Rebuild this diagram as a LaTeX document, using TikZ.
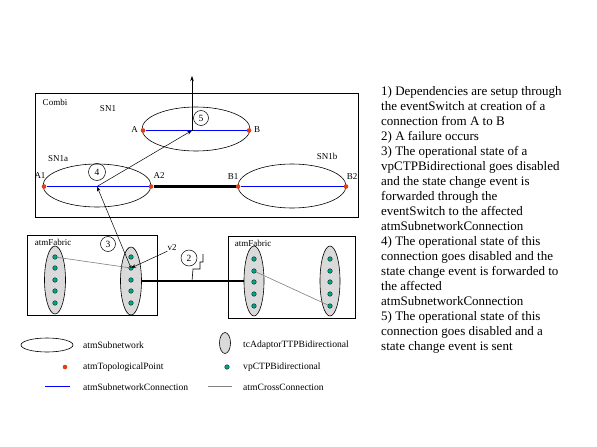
\documentclass[tikz,border=0pt]{standalone}
\usepackage{fontspec}
\setmainfont{Liberation Serif}
\usetikzlibrary{shapes.geometric,arrows.meta}
\definecolor{tpred}{RGB}{230,60,20}
\definecolor{vpteal}{RGB}{0,165,135}
\definecolor{fabgray}{RGB}{218,218,218}
\definecolor{sncblue}{RGB}{0,0,255}
\definecolor{xcgray}{RGB}{128,128,128}
\tikzset{
  lbl/.style={font=\fontsize{9}{10}\selectfont, inner sep=0pt},
  lgt/.style={font=\fontsize{9.6}{10}\selectfont, inner sep=0pt, anchor=west},
  snell/.style={ellipse, draw, line width=0.6pt, minimum width=108pt, minimum height=44pt, inner sep=0pt},
  fabell/.style={ellipse, draw, line width=0.6pt, fill=fabgray, minimum width=21pt, minimum height=68pt, inner sep=0pt},
  tp/.style={circle, fill=tpred, inner sep=0pt, minimum size=4.6pt},
  vp/.style={circle, fill=vpteal, draw=black, line width=0.3pt, inner sep=0pt, minimum size=4.6pt},
  snc/.style={color=sncblue, line width=1.1pt},
  xc/.style={color=xcgray, line width=0.6pt},
  ev/.style={-{Stealth[length=5pt,width=3.5pt]}, line width=0.5pt},
  num/.style={circle, draw, line width=0.5pt, inner sep=0pt, minimum size=15pt, font=\fontsize{9.5}{10}\selectfont},
  frame/.style={draw, line width=0.7pt},
  heavy/.style={line width=2.2pt},
}
\begin{document}
\begin{tikzpicture}[x=1pt,y=-1pt]
\useasboundingbox[fill=white] (0,0) rectangle (597,447);

% ---------- Combi box ----------
\draw[frame] (35,93) rectangle (358,217);
\node[lbl] (combi) at (55,102) {Combi};

% SN1
\node[snell] (sn1) at (196,129) {};
\node[lbl] (sn1l) at (108,109) {SN1};
\coordinate (ps) at (192,130.5);
\node[tp] (A) at (143,130.5) {};
\node[tp] (B) at (249,130.5) {};
\draw[snc] (A) -- (B);
\node[lbl] (Al) at (134.5,130) {A};
\node[lbl] (Bl) at (257,130) {B};
\node[num] (n5) at (201,118) {5};
\coordinate (top) at (192,76);

% SN1a
\node[snell, minimum height=43pt] (sn1a) at (97,185.5) {};
\node[lbl] (sn1al) at (58,159) {SN1a};
\node[tp] (A1) at (44,186.5) {};
\node[tp] (A2) at (151,186.5) {};
\coordinate (pa) at (97,186.5);
\draw[snc] (A1) -- (A2);
\node[lbl] (A1l) at (40,176) {A1};
\node[lbl] (A2l) at (159,176) {A2};
\node[num, minimum size=17pt] (n4) at (97,172) {4};

% SN1b
\node[snell] (sn1b) at (292,186) {};
\node[lbl] (sn1bl) at (327,156) {SN1b};
\node[tp] (B1) at (238,186.5) {};
\node[tp] (B2) at (346,186.5) {};
\draw[snc] (B1) -- (B2);
\node[lbl] (B1l) at (233,177) {B1};
\node[lbl] (B2l) at (352,177) {B2};

\draw[heavy] (A2) -- (B1);

% ---------- Left atmFabric ----------
\draw[frame] (27,235) rectangle (157,315);
\node[lbl] (fabl) at (53,242) {atmFabric};
\node[fabell] (L1) at (55,280) {};
\node[fabell] (L2) at (131,281) {};
\foreach \i/\y in {1/257,2/268,3/280,4/291,5/303}{
  \node[vp] (L1d\i) at (55,\y) {};
  \node[vp] (L2d\i) at (131,\y) {};
}
\draw[xc] (L1d1) -- (L2d2);
\node[num] (n3) at (108,244) {3};
\node[lbl] (v2) at (172,248) {v2};

% ---------- Right atmFabric ----------
\draw[frame] (228,236) rectangle (355,318);
\node[lbl] (fabr) at (253,243) {atmFabric};
\node[fabell, minimum height=70pt, minimum width=20pt] (R1) at (254,281) {};
\node[fabell, minimum height=70pt, minimum width=20pt] (R2) at (330,281) {};
\foreach \i/\y in {1/259,2/271,3/282,4/294,5/306}{
  \node[vp] (R1d\i) at (254,\y) {};
  \node[vp] (R2d\i) at (330,\y) {};
}
\draw[xc] (R1d2) -- (R2d5);

% link between fabrics and failure
\draw[heavy] (L2) -- (R1);
\coordinate (bolt) at (192,281);
\draw[line width=0.6pt] (bolt) -- (193,269) -- (200,269) -- (200,262) -- (203,262) -- (203,254);
\node[num, minimum size=16pt] (n2) at (189,258) {2};

% ---------- event propagation ----------
\draw[ev] (L2d2.center) -- (pa);
\draw[ev] (pa) -- (ps);
\draw[ev] (ps) -- (top);
\draw[ev] (v2.south west) -- (L2d2.center);

% ---------- legend ----------
\node[ellipse, draw, line width=0.6pt, minimum width=52pt, minimum height=14pt, inner sep=0pt] (lg1) at (47,345) {};
\node[lgt] (lg1t) at (83,345) {atmSubnetwork};
\node[tp] (lg2) at (65,367) {};
\node[lgt] (lg2t) at (83,367) {atmTopologicalPoint};
\coordinate (lg3a) at (45,386.5);
\coordinate (lg3b) at (70,386.5);
\draw[snc] (lg3a) -- (lg3b);
\node[lgt] (lg3t) at (83,387) {atmSubnetworkConnection};

\node[ellipse, draw, line width=0.6pt, fill=fabgray, minimum width=11pt, minimum height=21pt, inner sep=0pt] (lg4) at (225,343) {};
\node[lgt] (lg4t) at (243,345) {tcAdaptorTTPBidirectional};
\node[vp] (lg5) at (227,367) {};
\node[lgt] (lg5t) at (243,367) {vpCTPBidirectional};
\coordinate (lg6a) at (208,386.5);
\coordinate (lg6b) at (232,386.5);
\draw[xc] (lg6a) -- (lg6b);
\node[lgt] (lg6t) at (243,387) {atmCrossConnection};

% ---------- explanation text ----------
\node[anchor=north west, inner sep=0pt, align=left, font=\fontsize{13}{15}\selectfont] (expl) at (381,86) {%
1) Dependencies are setup through\\
the eventSwitch at creation of a\\
connection from A to B\\
2) A failure occurs\\
3) The operational state of a\\
vpCTPBidirectional goes disabled\\
and the state change event is\\
forwarded through the\\
eventSwitch to the affected\\
atmSubnetworkConnection\\
4) The operational state of this\\
connection goes disabled and the\\
state change event is forwarded to\\
the affected\\
atmSubnetworkConnection\\
5) The operational state of this\\
connection goes disabled and a\\
state change event is sent};
\end{tikzpicture}
\end{document}
